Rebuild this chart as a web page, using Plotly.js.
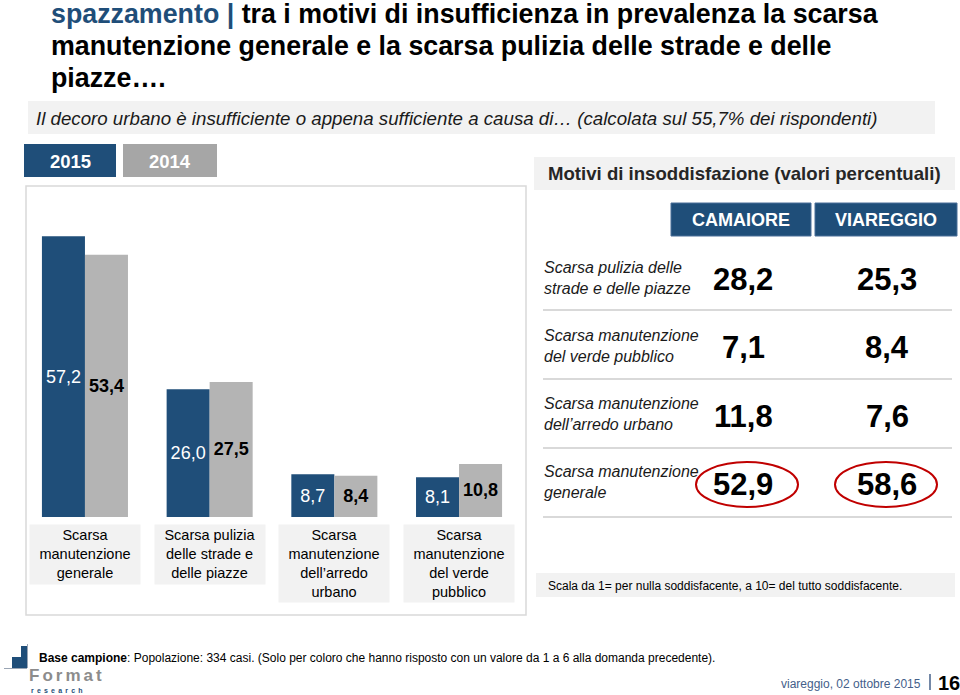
<!DOCTYPE html>
<html>
<head>
<meta charset="utf-8">
<script src="https://cdn.plot.ly/plotly-3.0.1.min.js"></script>
<style>
html,body{margin:0;padding:0;background:#fff;}
#chart{width:960px;height:695px;}
</style>
</head>
<body>
<div id="chart"></div>
<script>
// ---- data ----
const categories = [
  'Scarsa<br>manutenzione<br>generale',
  'Scarsa pulizia<br>delle strade e<br>delle piazze',
  'Scarsa<br>manutenzione<br>dell\u2019arredo<br>urbano',
  'Scarsa<br>manutenzione<br>del verde<br>pubblico'
];
const years = ['2015', '2014'];
const values2015 = [57.2, 26.0, 8.7, 8.1];
const values2014 = [53.4, 27.5, 8.4, 10.8];

const cities = ['CAMAIORE', 'VIAREGGIO'];
const tableRows = [
  'Scarsa pulizia delle<br>strade e delle piazze',
  'Scarsa manutenzione<br>del verde pubblico',
  'Scarsa manutenzione<br>dell\u2019arredo urbano',
  'Scarsa manutenzione<br>generale'
];
const camaiore = [28.2, 7.1, 11.8, 52.9];
const viareggio = [25.3, 8.4, 7.6, 58.6];

const titleLines = [
  '<span style="color:#1f4e79">spazzamento | </span>tra i motivi di insufficienza in prevalenza la scarsa',
  'manutenzione generale e la scarsa pulizia delle strade e delle',
  'piazze\u2026.'
];

// ---- helpers (pixel -> paper) ----
const W = 960, H = 695;
const FONT = 'Liberation Sans, Arial, sans-serif';
const BLUE = '#1f4e79', GREY = '#b4b4b4', LIGHT = '#f2f2f2';
const px = x => x / W, py = y => 1 - y / H;
const fmt = v => v.toFixed(1).replace('.', ',');

const shapes = [];
const annotations = [];
function rect(x0, y0, x1, y1, fill, lineColor, lw, layer) {
  shapes.push({type:'rect', xref:'paper', yref:'paper', x0:px(x0), x1:px(x1), y0:py(y1), y1:py(y0),
    fillcolor: fill, line:{color: lineColor || fill, width: lw || 0}, layer: layer || 'below'});
}
function line(x0, y0, x1, y1, color, w) {
  shapes.push({type:'line', xref:'paper', yref:'paper', x0:px(x0), x1:px(x1), y0:py(y0), y1:py(y1),
    line:{color, width:w}, layer:'below'});
}
function txt(x, y, text, size, opts) {
  opts = opts || {};
  annotations.push({xref:'paper', yref:'paper', x:px(x), y:py(y), text, showarrow:false,
    xanchor: opts.xanchor || 'left', yanchor: opts.yanchor || 'middle', align: opts.align || 'left',
    font:{family: FONT, size, color: opts.color || '#000'}});
}

// title
const titleY = [14, 46, 78];
titleLines.forEach((t, i) => txt(49, titleY[i], '<b>' + t + '</b>', 26.8));

// panel border
rect(26, 186, 526, 615, '#ffffff', '#d9d9d9', 1.5);

// subtitle band
rect(28, 101, 935, 134, LIGHT);
txt(34, 118, '<i>Il decoro urbano è insufficiente o appena sufficiente a causa di\u2026 (calcolata sul 55,7% dei rispondenti)</i>', 18.7, {color:'#1a1a1a'});

// legend tabs
rect(24, 144, 116, 177, BLUE);
rect(123, 144, 217, 177, '#a6a6a6');
txt(70, 161, '<b>' + years[0] + '</b>', 18.5, {xanchor:'center', color:'#fff'});
txt(170, 161, '<b>' + years[1] + '</b>', 18.5, {xanchor:'center', color:'#fff'});

// category label boxes under bars
categories.forEach((c, i) => {
  const lines = c.split('<br>').length;
  annotations.push({xref:'x', yref:'paper', x: c, y: py(524), yanchor:'top', xanchor:'center',
    text: c, showarrow:false, width: 110, height: lines * 18.2 + 4, bgcolor: LIGHT, borderpad: 0,
    valign:'middle', align:'center', font:{family: FONT, size: 14.5, color:'#000'}});
});

// right table
rect(534, 157, 955, 190, LIGHT);
txt(546, 174, '<b>Motivi di insoddisfazione (valori percentuali)</b>', 18.6, {color:'#262626'});
rect(671, 203, 811, 236, BLUE, '#4a6f99', 1);
rect(815, 203, 957, 236, BLUE, '#4a6f99', 1);
txt(741, 219.5, '<b>' + cities[0] + '</b>', 18, {xanchor:'center', color:'#fff'});
txt(886, 219.5, '<b>' + cities[1] + '</b>', 18, {xanchor:'center', color:'#fff'});

const rowY = [280, 348, 416, 484];
const sepY = [310, 379, 448, 517];
tableRows.forEach((r, i) => {
  txt(542, rowY[i] - 2, '<i>' + r + '</i>', 16, {color:'#1a1a1a'});
  txt(743, rowY[i], '<b>' + fmt(camaiore[i]) + '</b>', 31, {xanchor:'center'});
  txt(887, rowY[i], '<b>' + fmt(viareggio[i]) + '</b>', 31, {xanchor:'center'});
  line(543, sepY[i], 952, sepY[i], '#d9d9d9', 2);
});
// highlight ellipses
[[696, 798], [835, 937]].forEach(([a, b]) => {
  shapes.push({type:'circle', xref:'paper', yref:'paper', x0:px(a), x1:px(b), y0:py(507), y1:py(462),
    line:{color:'#c00000', width:2}, layer:'above'});
});

// scale note
rect(536, 573, 955, 597, LIGHT);
txt(546, 585.5, 'Scala da 1= per nulla soddisfacente, a 10= del tutto soddisfacente.', 12);

// footer
txt(37, 658, '<b>Base campione</b>: Popolazione: 334 casi. (Solo per coloro che hanno risposto con un valore da 1 a 6 alla domanda precedente).', 12);
txt(923, 684, 'viareggio, 02 ottobre 2015', 12, {xanchor:'right', color:'#44608a'});
line(930, 674, 930, 690, '#44608a', 1.5);
txt(936, 683, '<b>16</b>', 20);

// logo
rect(21, 646, 27, 668, BLUE);
rect(12, 657, 27, 668, BLUE);
line(4, 668.5, 27, 668.5, '#9aa5b4', 1);
line(27.5, 644, 27.5, 668, '#9aa5b4', 1);
txt(27, 675, '<b><span style="letter-spacing:3px">Format</span></b>', 17, {color:'#8c8c8c'});
txt(29, 690.5, '<b><span style="letter-spacing:3.2px">research</span></b>', 7, {color:BLUE});

const traces = [
  {type:'bar', name: years[0], x: categories, y: values2015, marker:{color: BLUE},
   texttemplate:'%{y:.1f}', textposition:'inside', insidetextanchor:'middle', constraintext:'none',
   textfont:{family: FONT, size:18, color:'#ffffff'}, hoverinfo:'y'},
  {type:'bar', name: years[1], x: categories, y: values2014, marker:{color: GREY},
   texttemplate:'<b>%{y:.1f}</b>', textposition:'inside', insidetextanchor:'middle', constraintext:'none',
   textfont:{family: FONT, size:18, color:'#000000'}, hoverinfo:'y'}
];

const layout = {
  width: W, height: H,
  margin:{l:0, r:0, t:0, b:0},
  paper_bgcolor:'#ffffff', plot_bgcolor:'rgba(0,0,0,0)',
  separators: ',.',
  showlegend: false,
  barmode:'group', bargap: 0.31, bargroupgap: 0,
  xaxis:{domain:[px(22.6), px(521.4)], range:[-0.5, 3.5], showticklabels:false, showgrid:false,
    zeroline:false, showline:false, ticks:'', fixedrange:true},
  yaxis:{domain:[py(517), py(222.4)], range:[0, 60], showticklabels:false, showgrid:false,
    zeroline:false, showline:false, ticks:'', fixedrange:true},
  shapes, annotations
};

Plotly.newPlot('chart', traces, layout, {displayModeBar:false, staticPlot:true});
</script>
</body>
</html>
